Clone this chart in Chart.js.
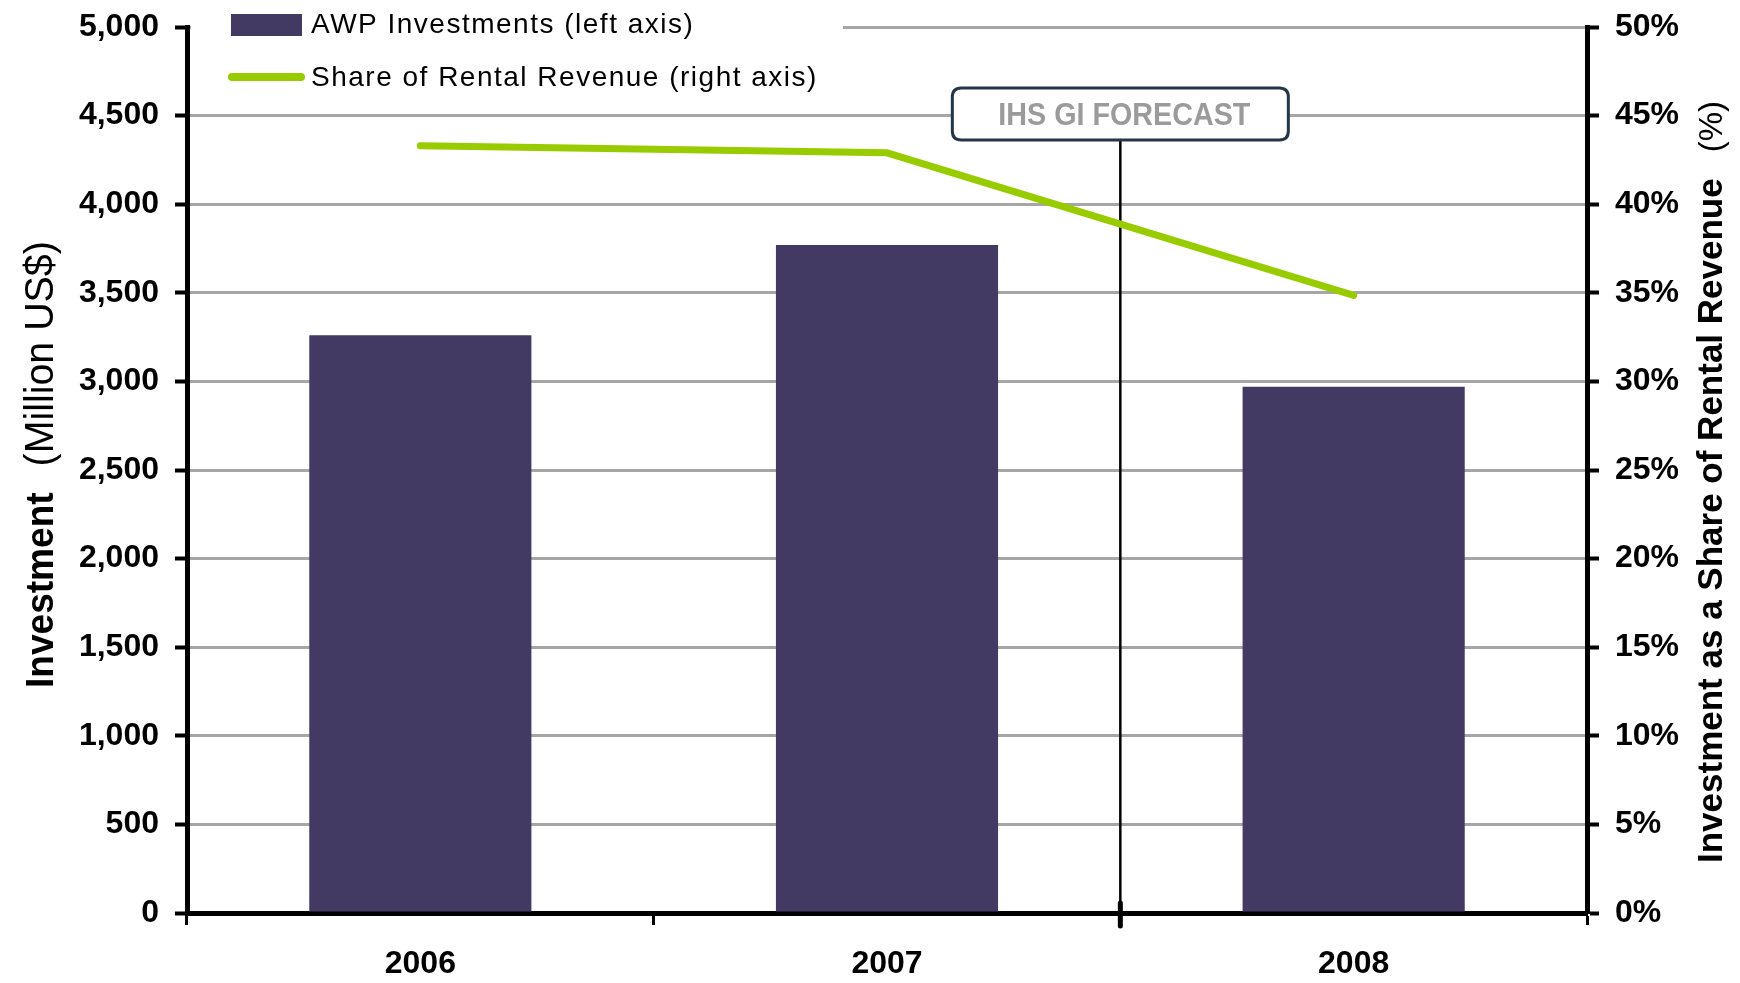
<!DOCTYPE html>
<html><head><meta charset="utf-8">
<script src="https://cdn.jsdelivr.net/npm/chart.js@4.4.0/dist/chart.umd.min.js"></script>
<style>html,body{margin:0;padding:0;background:#fff;} canvas{display:block;}</style>
</head><body>
<canvas id="c" width="1740" height="983"></canvas>
<script>
// ---- data ----
const categories = ['2006', '2007', '2008'];
const awpInvestments = [3260, 3770, 2970];          // Million US$ (left axis)
const rentalShare = [43.3, 42.9, 34.85];             // % (right axis)
const seriesNames = ['AWP Investments (left axis)', 'Share of Rental Revenue (right axis)'];
const leftAxisRange = [0, 5000, 500];
const rightAxisRange = [0, 50, 5];
const forecastLabel = 'IHS GI FORECAST';
const forecastAfterIndex = 1;   // forecast divider between 2007 and 2008
const leftTitle = ['Investment', '(Million US$)'];
const rightTitle = ['Investment as a Share of Rental Revenue', '(%)'];

// ---- styles ----
const FONT = "'Liberation Sans', Arial, Helvetica, sans-serif";
const BAR_COLOR = '#423a63';
const LINE_COLOR = '#99cc00';
const GRID = '#a6a6a6';
const tickFont = { family: FONT, size: 32, weight: 'bold' };

function rrect(ctx, x, y, w, h, r) {
  ctx.beginPath();
  ctx.moveTo(x + r, y);
  ctx.lineTo(x + w - r, y);
  ctx.quadraticCurveTo(x + w, y, x + w, y + r);
  ctx.lineTo(x + w, y + h - r);
  ctx.quadraticCurveTo(x + w, y + h, x + w - r, y + h);
  ctx.lineTo(x + r, y + h);
  ctx.quadraticCurveTo(x, y + h, x, y + h - r);
  ctx.lineTo(x, y + r);
  ctx.quadraticCurveTo(x, y, x + r, y);
  ctx.closePath();
}

function dividerX(x) {
  return (x.getPixelForTick(forecastAfterIndex) + x.getPixelForTick(forecastAfterIndex + 1)) / 2;
}

const decor = {
  id: 'decor',
  beforeDatasetsDraw(chart) {
    const { ctx, chartArea, scales: { x } } = chart;
    const lx = dividerX(x);
    ctx.save();
    ctx.strokeStyle = '#000';
    ctx.lineWidth = 2.5;
    ctx.beginPath();
    ctx.moveTo(lx, chartArea.top + 113);
    ctx.lineTo(lx, chartArea.bottom);
    ctx.stroke();
    ctx.restore();
  },
  afterDraw(chart) {
    const { ctx, chartArea, scales: { x } } = chart;
    const lx = dividerX(x);
    ctx.save();
    // thicker tick at divider
    ctx.strokeStyle = '#000';
    ctx.lineWidth = 5;
    ctx.lineCap = 'round';
    ctx.beginPath();
    ctx.moveTo(lx, chartArea.bottom - 10);
    ctx.lineTo(lx, chartArea.bottom + 13);
    ctx.stroke();
    // forecast box
    const bw = 336, bh = 52, bt = chartArea.top + 61;
    rrect(ctx, lx - bw / 2, bt, bw, bh, 9);
    ctx.fillStyle = '#fff';
    ctx.fill();
    ctx.lineWidth = 3;
    ctx.strokeStyle = '#253746';
    ctx.stroke();
    ctx.fillStyle = '#9b9b9b';
    ctx.font = 'bold 32px ' + FONT;
    ctx.textAlign = 'center';
    ctx.textBaseline = 'alphabetic';
    ctx.fillText(forecastLabel, lx + 4, bt + 37, 252);

    // legend
    ctx.fillStyle = '#fff';
    ctx.fillRect(chartArea.left + 4, 0, 652, 95);
    ctx.fillStyle = BAR_COLOR;
    ctx.fillRect(chartArea.left + 44, 14, 71, 22);
    ctx.strokeStyle = LINE_COLOR;
    ctx.lineWidth = 8;
    ctx.lineCap = 'round';
    ctx.beginPath();
    ctx.moveTo(chartArea.left + 45, 77);
    ctx.lineTo(chartArea.left + 114, 77);
    ctx.stroke();
    ctx.fillStyle = '#000';
    ctx.textAlign = 'left';
    ctx.font = '28px ' + FONT;
    try { ctx.letterSpacing = '1.5px'; } catch (e) {}
    ctx.fillText(seriesNames[0], chartArea.left + 124, 33);
    ctx.fillText(seriesNames[1], chartArea.left + 124, 86);
    try { ctx.letterSpacing = '0px'; } catch (e) {}

    // left axis title
    ctx.save();
    ctx.translate(53, 688);
    ctx.rotate(-Math.PI / 2);
    ctx.textAlign = 'left';
    ctx.fillStyle = '#000';
    ctx.save();
    ctx.scale(0.95, 1);
    ctx.font = 'bold 39px ' + FONT;
    ctx.fillText(leftTitle[0], 0, 0);
    const w0 = ctx.measureText(leftTitle[0]).width * 0.95;
    ctx.restore();
    ctx.save();
    ctx.translate(w0 + 26, 0);
    ctx.scale(0.96, 1);
    ctx.font = '41px ' + FONT;
    ctx.fillText(leftTitle[1], 0, 0);
    ctx.restore();
    ctx.restore();

    // right axis title
    ctx.save();
    ctx.translate(1722, 863);
    ctx.rotate(-Math.PI / 2);
    ctx.textAlign = 'left';
    ctx.fillStyle = '#000';
    ctx.font = 'bold 35px ' + FONT;
    ctx.fillText(rightTitle[0], 0, 0);
    const w1 = ctx.measureText(rightTitle[0]).width;
    ctx.font = '33px ' + FONT;
    ctx.fillText(rightTitle[1], w1 + 26, 0);
    ctx.restore();

    ctx.restore();
  }
};

new Chart(document.getElementById('c'), {
  data: {
    labels: categories,
    datasets: [
      {
        type: 'line', label: seriesNames[1], data: rentalShare, yAxisID: 'y1', order: 0,
        borderColor: LINE_COLOR, borderWidth: 7, tension: 0, pointRadius: 0, pointHoverRadius: 0,
        borderCapStyle: 'round', borderJoinStyle: 'miter', fill: false
      },
      {
        type: 'bar', label: seriesNames[0], data: awpInvestments, yAxisID: 'y', order: 1,
        backgroundColor: BAR_COLOR, borderWidth: 0, barPercentage: 1, categoryPercentage: 0.476
      }
    ]
  },
  options: {
    responsive: false,
    animation: false,
    layout: { padding: { top: 27, left: 0, right: 0, bottom: 0 } },
    plugins: { legend: { display: false }, tooltip: { enabled: false } },
    scales: {
      x: {
        offset: true,
        grid: { display: true, offset: true, drawOnChartArea: false, drawTicks: true, tickLength: 12, tickColor: '#000', tickWidth: 3 },
        border: { display: true, color: '#000', width: 5 },
        ticks: { font: tickFont, color: '#000', padding: 20, maxRotation: 0 },
        afterFit(s) { s.height = 70; s.paddingLeft = 0; s.paddingRight = 0; }
      },
      y: {
        position: 'left', min: leftAxisRange[0], max: leftAxisRange[1],
        ticks: { stepSize: leftAxisRange[2], font: tickFont, color: '#000', padding: 16,
          callback: v => v.toLocaleString('en-US') },
        grid: { color: GRID, lineWidth: 3, tickColor: '#000', tickWidth: 4, tickLength: 12 },
        border: { color: '#000', width: 5 },
        afterFit(s) { s.width = 187; s.paddingTop = 0; s.paddingBottom = 0; }
      },
      y1: {
        position: 'right', min: rightAxisRange[0], max: rightAxisRange[1],
        ticks: { stepSize: rightAxisRange[2], font: tickFont, color: '#000', padding: 16,
          callback: v => v + '%' },
        grid: { drawOnChartArea: false, tickColor: '#000', tickWidth: 4, tickLength: 12 },
        border: { color: '#000', width: 5 },
        afterFit(s) { s.width = 153; s.paddingTop = 0; s.paddingBottom = 0; }
      }
    }
  },
  plugins: [decor]
});
</script>
</body></html>
